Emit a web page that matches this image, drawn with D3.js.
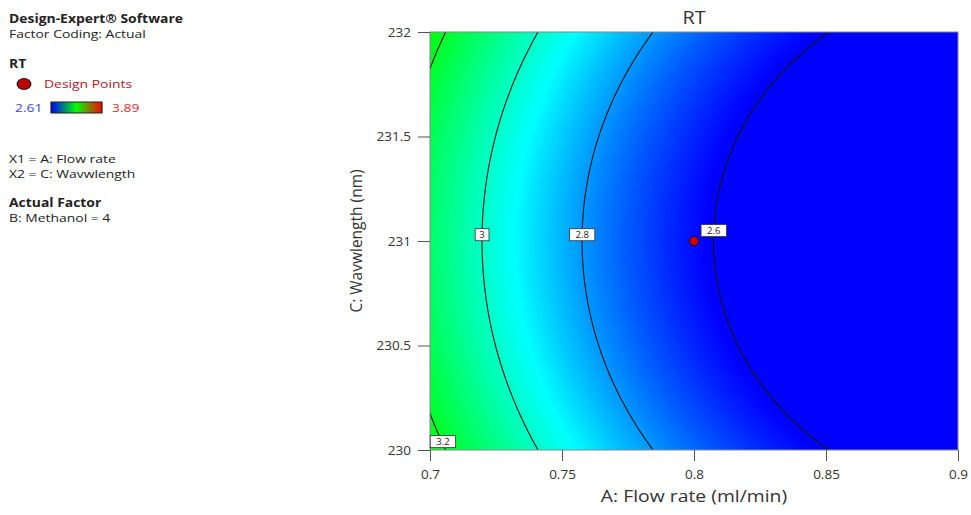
<!DOCTYPE html>
<meta charset="utf-8">
<style>
body { margin: 0; background: #fff; }
svg text { font-family: "Open Sans", sans-serif; }
.axis text { font-size: 13.5px; fill: #333; }
.axis line { stroke: #555; }
.legend text { font-size: 11.5px; fill: #222; }
</style>
<svg class="chart"></svg>
<script src="https://cdn.jsdelivr.net/npm/d3@7"></script>
<script>

  // quadratic model of RT in coded units: a + b*X + c*X^2 + d*Y^2
  var modelCoefs    = [2.6252, -0.3513, 0.1438, 0.117];
  var contourLevels = [3.2, 3.0, 2.8, 2.6];
  var labelTexts    = ["3.2", "3", "2.8", "2.6"];
  var labelWav      = [230.04, 231.03, 231.03, 231.05];
  var xTicks        = [0.7, 0.75, 0.8, 0.85, 0.9];
  var yTicks        = [230, 230.5, 231, 231.5, 232];
  var designFlow    = [0.8];
  var designWav     = [231];
  var colorValues   = [2.61, 2.93, 3.25, 3.57, 3.89];
  var colorStops    = ["#0000ff", "#00ffff", "#00ff00", "#ffff00", "#ff0000"];

  var margin = { top: 32, left: 430 };
  var width  = 528,
      height = 418;
  var stretch = 1.21;   // the original picture is a bit wider than tall

  var svg = d3.select(".chart")
      .attr("width", 971)
      .attr("height", 515);

  var x = d3.scaleLinear().domain([0.7, 0.9]).range([0, width]);
  var y = d3.scaleLinear().domain([230, 232]).range([height, 0]);
  var z = d3.scaleLinear().domain(colorValues).range(colorStops).clamp(true);

  function rt(flow, wav) {
    var X = (flow - 0.8) / 0.1, Y = wav - 231;
    return modelCoefs[0] + modelCoefs[1] * X + modelCoefs[2] * X * X + modelCoefs[3] * Y * Y;
  }

  // flow rate where rt == level at a given wavelength
  function flowAt(level, wav) {
    var Y = wav - 231;
    var a = modelCoefs[2], b = modelCoefs[1], c = modelCoefs[0] + modelCoefs[3] * Y * Y - level;
    var X = (-b - Math.sqrt(b * b - 4 * a * c)) / (2 * a);
    return 0.8 + X * 0.1;
  }

  var chart = svg.append("g")
      .attr("transform", "translate(" + margin.left + "," + margin.top + ")");

  // surface fill
  var canvas = document.createElement("canvas");
  canvas.width = width;
  canvas.height = height;
  var ctx = canvas.getContext("2d");
  var img = ctx.createImageData(width, height);
  var lut = [];
  for (var k = 0; k <= 1000; k++) {
    lut.push(d3.rgb(z(2.4 + k * 0.0015)));
  }
  for (var py = 0; py < height; py++) {
    var wv = y.invert(py + 0.5);
    for (var px = 0; px < width; px++) {
      var v = rt(x.invert(px + 0.5), wv);
      var idx = Math.max(0, Math.min(1000, Math.round((v - 2.4) / 0.0015)));
      var col = lut[idx], o = (py * width + px) * 4;
      img.data[o] = col.r; img.data[o + 1] = col.g; img.data[o + 2] = col.b; img.data[o + 3] = 255;
    }
  }
  ctx.putImageData(img, 0, 0);

  chart.append("image")
      .attr("width", width)
      .attr("height", height)
      .attr("href", canvas.toDataURL());

  chart.append("clipPath")
      .attr("id", "plot-clip")
    .append("rect")
      .attr("width", width)
      .attr("height", height);

  var wavSamples = d3.range(0, 201).map(function(i) { return 230 + i * 0.01; });

  var line = d3.line()
      .x(function(d) { return x(d[0]); })
      .y(function(d) { return y(d[1]); });

  chart.append("g")
      .attr("clip-path", "url(#plot-clip)")
    .selectAll("path")
      .data(contourLevels)
    .enter().append("path")
      .attr("fill", "none")
      .attr("stroke", "#111")
      .attr("stroke-width", 1.1)
      .attr("d", function(level) {
        return line(wavSamples.map(function(w) { return [flowAt(level, w), w]; }));
      });

  chart.append("rect")
      .attr("width", width)
      .attr("height", height)
      .attr("fill", "none")
      .attr("stroke", "#888");

  // contour labels
  var labels = chart.append("g")
    .selectAll("g")
      .data(contourLevels)
    .enter().append("g")
      .attr("transform", function(level, i) {
        var fx = Math.max(flowAt(level, labelWav[i]), 0.7049);
        return "translate(" + x(fx) + "," + y(labelWav[i]) + ")";
      });

  labels.append("text")
      .attr("text-anchor", "middle")
      .attr("dy", "0.35em")
      .style("font-size", "9.5px")
      .attr("fill", "#222")
      .text(function(d, i) { return labelTexts[i]; });

  labels.insert("rect", "text")
      .attr("x", function(d, i) { return -(labelTexts[i].length * 2.9 + 4); })
      .attr("y", -6)
      .attr("width", function(d, i) { return labelTexts[i].length * 5.8 + 8; })
      .attr("height", 12)
      .attr("fill", "#fff")
      .attr("stroke", "#333")
      .attr("stroke-width", 0.8);

  // design point
  chart.selectAll(".point")
      .data(designFlow)
    .enter().append("circle")
      .attr("class", "point")
      .attr("cx", function(d) { return x(d); })
      .attr("cy", function(d, i) { return y(designWav[i]); })
      .attr("r", 4.5)
      .attr("fill", "#c80000")
      .attr("stroke", "#3a0000")
      .attr("stroke-width", 1);

  // axes
  var xAxis = chart.append("g")
      .attr("class", "axis")
      .attr("transform", "translate(0," + height + ")")
      .call(d3.axisBottom(x).tickValues(xTicks).tickFormat(d3.format("")).tickSize(11).tickSizeOuter(0).tickPadding(8));
  xAxis.select(".domain").remove();

  var yAxis = chart.append("g")
      .attr("class", "axis")
      .call(d3.axisLeft(y).tickValues(yTicks).tickFormat(d3.format("")).tickSize(12).tickSizeOuter(0).tickPadding(7));
  yAxis.select(".domain").remove();

  chart.append("text")
      .attr("transform", "translate(" + (width / 2) + "," + (height + 52) + ") scale(" + stretch + ",1)")
      .attr("text-anchor", "middle")
      .style("font-size", "16px")
      .attr("fill", "#333")
      .text("A: Flow rate (ml/min)");

  chart.append("text")
      .attr("transform", "translate(-68," + (height / 2) + ") rotate(-90)")
      .attr("text-anchor", "middle")
      .style("font-size", "15.5px")
      .attr("fill", "#333")
      .text("C: Wavwlength (nm)");

  chart.append("text")
      .attr("transform", "translate(" + (width / 2) + ",-8) scale(1.1,1)")
      .attr("text-anchor", "middle")
      .style("font-size", "18px")
      .attr("fill", "#333")
      .text("RT");

  // legend, drawn in unstretched units
  var legend = svg.append("g")
      .attr("class", "legend")
      .attr("transform", "scale(" + stretch + ",1)");

  function lx(px) { return px / stretch; }

  var grad = svg.append("defs").append("linearGradient")
      .attr("id", "rt-grad");
  grad.selectAll("stop")
      .data(["#0000ff", "#00ff00", "#ff0000"])
    .enter().append("stop")
      .attr("offset", function(d, i) { return (i * 50) + "%"; })
      .attr("stop-color", function(d) { return d; });

  legend.append("text").attr("x", lx(9)).attr("y", 23).style("font-weight", "bold").text("Design-Expert\u00ae Software");
  legend.append("text").attr("x", lx(9)).attr("y", 38).text("Factor Coding: Actual");
  legend.append("text").attr("x", lx(9)).attr("y", 68).style("font-weight", "bold").text("RT");
  legend.append("ellipse")
      .attr("cx", lx(24)).attr("cy", 84).attr("rx", 5.6).attr("ry", 5.5)
      .attr("fill", "#c00000").attr("stroke", "#222").attr("stroke-width", 1.2);
  legend.append("text").attr("x", lx(44)).attr("y", 88).style("fill", "#b5162a").text("Design Points");
  legend.append("text").attr("x", lx(15)).attr("y", 112).style("fill", "#3d3df0").text("2.61");
  legend.append("rect")
      .attr("x", lx(51)).attr("y", 102).attr("width", lx(51)).attr("height", 11)
      .attr("fill", "url(#rt-grad)").attr("stroke", "#222").attr("stroke-width", 1);
  legend.append("text").attr("x", lx(112)).attr("y", 112).style("fill", "#e03030").text("3.89");
  legend.append("text").attr("x", lx(9)).attr("y", 163).text("X1 = A: Flow rate");
  legend.append("text").attr("x", lx(9)).attr("y", 178).text("X2 = C: Wavwlength");
  legend.append("text").attr("x", lx(9)).attr("y", 207).style("font-weight", "bold").text("Actual Factor");
  legend.append("text").attr("x", lx(9)).attr("y", 222).text("B: Methanol = 4");

</script>
